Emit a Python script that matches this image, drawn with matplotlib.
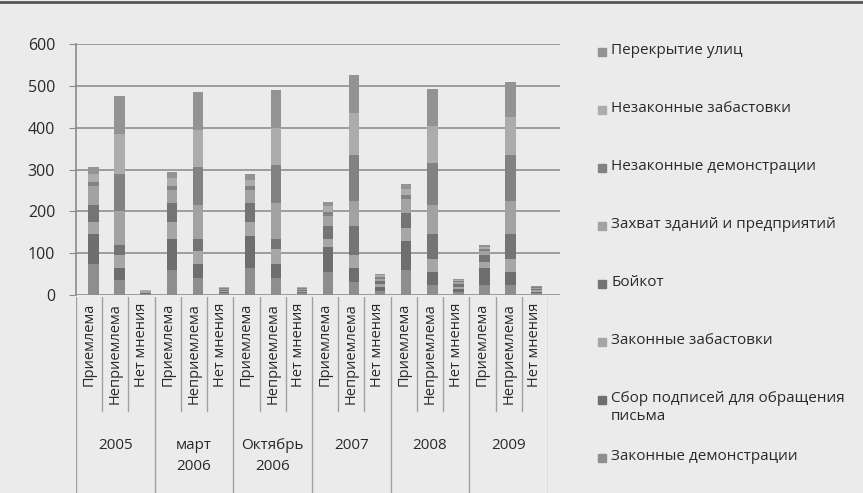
import numpy as np
import matplotlib.pyplot as plt
from matplotlib.patches import Rectangle
from matplotlib.lines import Line2D

plt.rcParams['font.family'] = ['Open Sans', 'DejaVu Sans']

# группы и ответы
years = ['2005', 'март\n2006', 'Октябрь\n2006', '2007', '2008', '2009']
answers = ['Приемлема', 'Неприемлема', 'Нет мнения']

# ряды снизу вверх
series = ['Законные демонстрации',
          'Сбор подписей для обращения\nписьма',
          'Законные забастовки',
          'Бойкот',
          'Захват зданий и предприятий',
          'Незаконные демонстрации',
          'Незаконные забастовки',
          'Перекрытие улиц']

# значения по 18 столбцам (год x ответ)
zak_dem = [75, 35, 2, 60, 40, 4, 65, 40, 4, 55, 30, 10, 60, 25, 8, 25, 25, 4]
sbor = [70, 30, 2, 75, 35, 3, 75, 35, 3, 60, 35, 8, 70, 30, 6, 40, 30, 4]
zak_zab = [30, 30, 2, 40, 30, 3, 35, 35, 3, 20, 30, 8, 30, 30, 6, 15, 30, 3]
boikot = [40, 25, 2, 45, 30, 3, 45, 25, 3, 30, 70, 8, 35, 60, 6, 15, 60, 3]
zahvat = [45, 80, 1, 30, 80, 2, 30, 85, 2, 25, 60, 5, 35, 70, 4, 10, 80, 2]
nezak_dem = [10, 90, 1, 10, 90, 2, 10, 90, 2, 8, 110, 4, 8, 100, 3, 5, 110, 2]
nezak_zab = [20, 95, 1, 20, 90, 2, 15, 90, 2, 14, 100, 4, 15, 90, 3, 5, 90, 2]
perekr = [15, 90, 1, 15, 90, 1, 15, 90, 1, 10, 90, 3, 12, 88, 2, 5, 83, 2]

values = [zak_dem, sbor, zak_zab, boikot, zahvat, nezak_dem, nezak_zab, perekr]
colors = ['#8e8e8e', '#6e6e6e', '#a6a6a6', '#747474',
          '#a2a2a2', '#828282', '#acacac', '#939393']

W, H = 863, 493
bg = '#ebebeb'
txt = '#2a2a2a'
fig = plt.figure(figsize=(8.63, 4.93), dpi=100, facecolor=bg)

# область столбцов
ax = fig.add_axes([76 / W, 1 - 295 / H, (560 - 76) / W, (295 - 44) / H])
ax.set_facecolor(bg)
n = len(years) * len(answers)
x = np.arange(n)
bottom = np.zeros(n)
for vals, c in zip(values, colors):
    ax.bar(x, vals, width=0.42, bottom=bottom, color=c, edgecolor='none', zorder=3)
    bottom += np.array(vals)

ax.set_xlim(-0.69, 17.92)
ax.set_ylim(0, 600)
ax.set_yticks(range(0, 601, 100))
ax.yaxis.grid(True, color='#9c9c9c', lw=1.4, zorder=0)
for s in ['top', 'right', 'bottom']:
    ax.spines[s].set_visible(False)
ax.spines['left'].set_color('#8a8a8a')
ax.spines['left'].set_linewidth(1.2)
ax.tick_params(axis='y', length=5, color='#8a8a8a', labelsize=11.5, labelcolor=txt, pad=10)
ax.set_xticks([])

# подписи категорий
lab = fig.add_axes([76 / W, 0, (548 - 76) / W, (H - 297) / H])
lab.set_facecolor(bg)
lab.set_xlim(0, n)
lab.set_ylim(1, 0)
lab.axis('off')
for i in range(n):
    lab.text(i + 0.5, 0.03, answers[i % 3], rotation=90, ha='center', va='top',
             fontsize=10.5, color=txt)
for i in range(n + 1):
    if i % 3 == 0:
        lab.plot([i, i], [0, 1], color='#a0a0a0', lw=1)
    else:
        lab.plot([i, i], [0, 0.58], color='#a0a0a0', lw=1)
for g, name in enumerate(years):
    lab.text(g * 3 + 1.5, 0.72, name, ha='center', va='top', fontsize=11,
             color=txt, linespacing=1.5)

# легенда
for k, (name, c) in enumerate(zip(series[::-1], colors[::-1])):
    yc = 52 + 58 * k
    fig.patches.append(Rectangle((598 / W, 1 - (yc + 4) / H), 8 / W, 8 / H,
                                 transform=fig.transFigure, color=c))
    fig.text(611 / W, 1 - (yc - 9) / H, name, ha='left', va='top', fontsize=11,
             color=txt, linespacing=1.25)

fig.lines.append(Line2D([0, 1], [0.996, 0.996], transform=fig.transFigure,
                        color='#555555', lw=2))

fig.savefig('out.png', dpi=100, facecolor=bg)
